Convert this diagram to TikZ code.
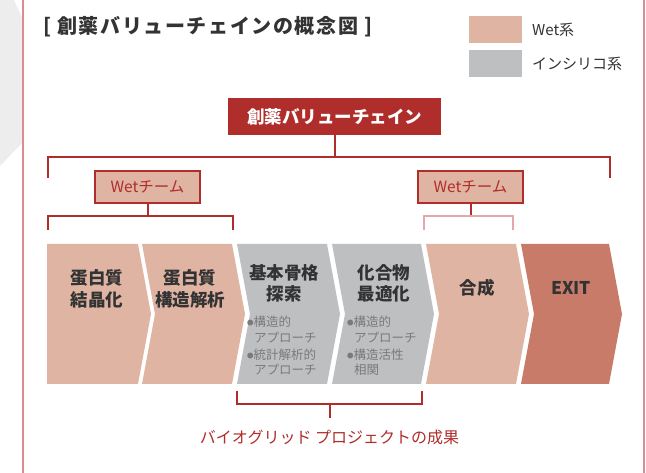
\documentclass[tikz,border=0pt]{standalone}
\usepackage{fontspec}
\setmainfont{Noto Sans CJK JP}
\definecolor{wetc}{HTML}{E0B4A3}
\definecolor{silc}{HTML}{BEBFC1}
\definecolor{exitc}{HTML}{C87B68}
\definecolor{redd}{HTML}{AF2E2B}
\definecolor{txtc}{HTML}{333333}
\definecolor{subc}{HTML}{7A7A7A}
\definecolor{framec}{HTML}{DC8C8E}
\definecolor{lightbrk}{HTML}{E3A9AA}
\definecolor{bgg}{HTML}{ECEDEC}
\newcommand{\fsz}[1]{\fontsize{#1}{#1}\selectfont}
\newcommand{\bul}{\raisebox{0.8pt}{\fsz{6.5}●}}
\tikzset{
  brk/.style={draw=redd, line width=2pt},
  lbrk/.style={draw=lightbrk, line width=2pt},
  legbox/.style={minimum width=53pt, minimum height=27pt, inner sep=0pt},
  wetbox/.style={draw=redd, line width=1.4pt, fill=wetc, minimum width=105pt, minimum height=32pt, inner sep=0pt, text=redd, font=\fsz{15.5}},
  maintxt/.style={text=txtc, font=\bfseries\fsz{17.5}, align=center, inner sep=0pt},
  subtxt/.style={text=subc, font=\fsz{12.5}, align=left, inner sep=0pt, anchor=north west},
}
\begin{document}
\begin{tikzpicture}[x=1pt,y=-1pt]
\useasboundingbox (0,0) rectangle (646,473);
\fill[white] (0,0) rectangle (646,473);
% background decoration
\fill[bgg] (0,0) -- (14,0) -- (23,20) -- (23,142) -- (0,166) -- cycle;
\draw[framec, line width=1.2pt] (23,0) -- (23,473);
\draw[framec, line width=1.2pt] (644,0) -- (644,473);
% title
\node[anchor=west, text=txtc, font=\bfseries\fsz{20}\addfontfeature{LetterSpace=8}, inner sep=0pt] (title) at (43,27) {[ 創薬バリューチェインの概念図 ]};
% legend
\node[legbox, fill=wetc] (legwet) at (495.5,29.5) {};
\node[legbox, fill=silc] (legsil) at (495.5,63.5) {};
\node[anchor=west, text=txtc, font=\fsz{15}, inner sep=0pt] (legwett) at (532,30) {Wet系};
\node[anchor=west, text=txtc, font=\fsz{15}, inner sep=0pt] (legsilt) at (532,64) {インシリコ系};
% top box
\node[fill=redd, minimum width=213pt, minimum height=37pt, inner sep=0pt, text=white, font=\bfseries\fsz{17.5}] (vc) at (334.5,116.5) {創薬バリューチェイン};
\coordinate (tbc) at (334.5,157);
\coordinate (tbl) at (48,157);
\coordinate (tbr) at (610,157);
\coordinate (tbld) at (48,178);
\coordinate (tbrd) at (610,178);
\draw[brk] (vc.south) -- (tbc);
\draw[brk] (tbld) -- (tbl) -- (tbr) -- (tbrd);
% wet team boxes
\node[wetbox] (wet1) at (147.5,187) {Wetチーム};
\node[wetbox] (wet2) at (470.5,187) {Wetチーム};
\coordinate (w1c) at (147.5,216);
\coordinate (w1l) at (48,216);
\coordinate (w1r) at (233,216);
\coordinate (w1ld) at (48,230);
\coordinate (w1rd) at (233,230);
\draw[brk] (wet1.south) -- (w1c);
\draw[brk] (w1ld) -- (w1l) -- (w1r) -- (w1rd);
\coordinate (w2c) at (470.5,216);
\coordinate (w2l) at (424,216);
\coordinate (w2r) at (513,216);
\coordinate (w2ld) at (424,230);
\coordinate (w2rd) at (513,230);
\draw[brk] (wet2.south) -- (w2c);
\draw[lbrk] (w2ld) -- (w2l) -- (w2r) -- (w2rd);
% chevrons
\fill[wetc] (47,244) -- (138,244) -- (151,314) -- (138,384) -- (47,384) -- cycle;
\fill[wetc] (142,244) -- (232,244) -- (245,314) -- (232,384) -- (142,384) -- (155,314) -- cycle;
\fill[silc] (237,244) -- (327,244) -- (340,314) -- (327,384) -- (237,384) -- (250,314) -- cycle;
\fill[silc] (332,244) -- (421,244) -- (434,314) -- (421,384) -- (332,384) -- (345,314) -- cycle;
\fill[wetc] (426,244) -- (516,244) -- (529,314) -- (516,384) -- (426,384) -- (439,314) -- cycle;
\fill[exitc] (521,244) -- (609,244) -- (622,314) -- (609,384) -- (521,384) -- (534,314) -- cycle;
% chevron texts
\node[maintxt] (c1) at (97,289) {蛋白質\\[4pt]結晶化};
\node[maintxt] (c2) at (190,289) {蛋白質\\[4pt]構造解析};
\node[maintxt] (c3) at (284,283.5) {基本骨格\\[4pt]探索};
\node[maintxt] (c4) at (384,283.5) {化合物\\[4pt]最適化};
\node[maintxt] (c5) at (477,288) {合成};
\node[maintxt] (c6) at (571,288) {EXIT};
\node[subtxt] (s3) at (247,316) {\bul 構造的\\[2.8pt]\hspace{7pt}アプローチ\\[4.5pt]\bul 統計解析的\\[2.8pt]\hspace{7pt}アプローチ};
\node[subtxt] (s4) at (347,316) {\bul 構造的\\[2.8pt]\hspace{7pt}アプローチ\\[4.5pt]\bul 構造活性\\[2.8pt]\hspace{7pt}相関};
% bottom bracket
\coordinate (bl) at (237,391);
\coordinate (blh) at (237,404);
\coordinate (br) at (422,391);
\coordinate (brh) at (422,404);
\coordinate (bc) at (329.5,404);
\coordinate (bcd) at (329.5,418);
\node[text=redd, font=\fsz{16}, inner sep=0pt] (result) at (329.5,437) {バイオグリッド プロジェクトの成果};
\draw[brk] (bl) -- (blh) -- (brh) -- (br);
\draw[brk] (bc) -- (bcd);
\end{tikzpicture}
\end{document}
